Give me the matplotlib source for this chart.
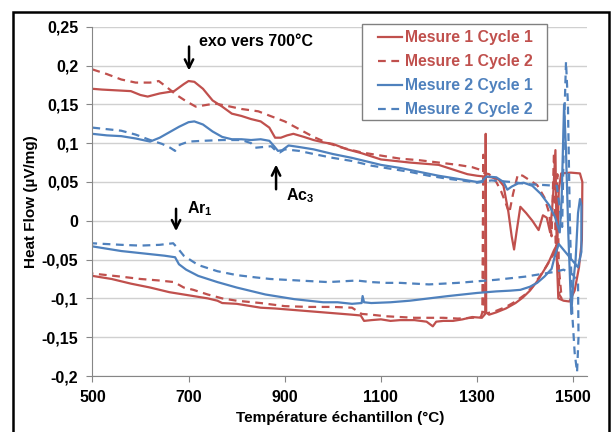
import numpy as np
import matplotlib.pyplot as plt
from matplotlib.patches import Rectangle
from matplotlib.ticker import FuncFormatter

# -------------------------------
# Data
# (heating branch then cooling branch, one loop per series)
# -------------------------------
m1c1_heat_T = [500, 520, 550, 580, 600, 615, 640, 670, 690, 700, 712, 730, 750, 770, 790, 810, 830,
               850, 868, 880, 892, 905, 918, 940, 960, 980, 1000, 1030, 1060, 1100, 1130, 1160, 1200,
               1220, 1250, 1280, 1300, 1315, 1330, 1345, 1355, 1365, 1372, 1377, 1382, 1390, 1402,
               1415, 1428, 1437, 1445, 1452, 1458, 1463, 1466, 1469, 1480, 1492, 1503, 1512, 1518,
               1519, 1514, 1495, 1475, 1470, 1467]
m1c1_heat_hf = [0.170, 0.169, 0.168, 0.167, 0.162, 0.160, 0.164, 0.167, 0.176, 0.180, 0.179, 0.170,
                0.155, 0.147, 0.138, 0.135, 0.131, 0.128, 0.120, 0.107, 0.107, 0.110, 0.112, 0.108,
                0.104, 0.101, 0.099, 0.092, 0.087, 0.079, 0.077, 0.075, 0.073, 0.072, 0.066, 0.060,
                0.058, 0.057, 0.056, 0.053, 0.045, 0.012, -0.020, -0.037, -0.015, 0.018, 0.010,
                0.000, -0.012, 0.007, 0.004, -0.015, 0.030, 0.091, -0.050, -0.100, -0.103, -0.104,
                -0.090, -0.060, -0.025, 0.050, 0.061, 0.062, 0.061, 0.040, -0.030]
m1c1_cool_T = [1460, 1450, 1440, 1425, 1410, 1395, 1380, 1360, 1340, 1325, 1319, 1318, 1317, 1310,
               1290, 1270, 1250, 1230, 1215, 1208, 1195, 1170, 1140, 1120, 1100, 1080, 1065, 1058,
               1040, 1000, 960, 920, 880, 850, 820, 800, 770, 760, 740, 700, 660, 620, 580, 540, 500]
m1c1_cool_hf = [-0.038, -0.052, -0.063, -0.078, -0.090, -0.099, -0.106, -0.113, -0.118, -0.121,
                -0.118, 0.112, -0.120, -0.125, -0.124, -0.127, -0.129, -0.129, -0.130, -0.136,
                -0.130, -0.128, -0.128, -0.129, -0.127, -0.128, -0.129, -0.122, -0.121, -0.119,
                -0.117, -0.115, -0.113, -0.112, -0.109, -0.107, -0.106, -0.103, -0.100, -0.096,
                -0.092, -0.086, -0.081, -0.075, -0.071]

m1c2_heat_T = [500, 530, 560, 590, 620, 638, 655, 675, 695, 715, 735, 755, 780, 810, 845, 870, 900,
               930, 960, 990, 1020, 1060, 1100, 1140, 1180, 1220, 1260, 1290, 1305, 1311, 1325, 1340,
               1350, 1360, 1367, 1375, 1385, 1395, 1410, 1425, 1440, 1450, 1455, 1460, 1464, 1467,
               1471, 1476, 1470]
m1c2_heat_hf = [0.195, 0.189, 0.182, 0.178, 0.178, 0.180, 0.172, 0.162, 0.154, 0.147, 0.149, 0.151,
                0.148, 0.144, 0.141, 0.135, 0.128, 0.118, 0.108, 0.100, 0.094, 0.088, 0.084, 0.080,
                0.078, 0.075, 0.072, 0.069, 0.066, 0.062, 0.060, 0.050, 0.038, 0.022, 0.010, 0.035,
                0.060, 0.058, 0.052, 0.046, 0.030, 0.010, -0.020, 0.088, -0.050, 0.060, -0.095,
                -0.100, -0.060]
m1c2_cool_T = [1462, 1445, 1430, 1415, 1400, 1380, 1360, 1340, 1322, 1314, 1313, 1311, 1308, 1290,
               1260, 1230, 1200, 1170, 1140, 1110, 1080, 1060, 1040, 1000, 950, 900, 850, 800, 770,
               740, 710, 690, 670, 640, 600, 560, 530, 500]
m1c2_cool_hf = [-0.040, -0.058, -0.072, -0.085, -0.095, -0.104, -0.111, -0.116, -0.119, -0.118,
                0.085, -0.118, -0.124, -0.125, -0.126, -0.125, -0.125, -0.125, -0.124, -0.123,
                -0.121, -0.120, -0.112, -0.111, -0.111, -0.110, -0.106, -0.103, -0.100, -0.095,
                -0.089, -0.086, -0.079, -0.077, -0.075, -0.072, -0.070, -0.068]

m2c1_heat_T = [500, 530, 560, 590, 620, 640, 660, 680, 700, 712, 730, 750, 770, 790, 810, 830, 850,
               868, 878, 886, 895, 908, 930, 960, 1000, 1040, 1080, 1100, 1140, 1180, 1220, 1260,
               1300, 1310, 1320, 1340, 1355, 1363, 1372, 1385, 1397, 1415, 1432, 1450, 1462, 1472,
               1476, 1481, 1485, 1490, 1496, 1500, 1505, 1510, 1514, 1517, 1517, 1510]
m2c1_heat_hf = [0.112, 0.110, 0.109, 0.106, 0.102, 0.107, 0.114, 0.121, 0.127, 0.128, 0.124, 0.115,
                0.108, 0.105, 0.105, 0.104, 0.105, 0.103, 0.096, 0.090, 0.091, 0.097, 0.095, 0.092,
                0.086, 0.081, 0.075, 0.072, 0.068, 0.063, 0.058, 0.054, 0.050, 0.051, 0.057, 0.056,
                0.050, 0.040, 0.044, 0.048, 0.049, 0.045, 0.035, 0.020, 0.005, -0.015, 0.030, 0.150,
                0.090, -0.020, -0.120, -0.080, -0.050, 0.010, 0.028, 0.020, -0.040, -0.060]
m2c1_cool_T = [1470, 1462, 1455, 1440, 1425, 1410, 1390, 1370, 1340, 1300, 1270, 1240, 1200, 1160,
               1120, 1080, 1065, 1062, 1060, 1040, 1010, 980, 950, 920, 900, 880, 860, 840, 800, 760,
               720, 695, 680, 672, 650, 620, 590, 560, 530, 500]
m2c1_cool_hf = [-0.030, -0.045, -0.062, -0.072, -0.080, -0.085, -0.089, -0.090, -0.091, -0.093,
                -0.095, -0.097, -0.100, -0.103, -0.105, -0.106, -0.105, -0.097, -0.106, -0.107,
                -0.105, -0.105, -0.103, -0.101, -0.099, -0.097, -0.095, -0.092, -0.086, -0.079,
                -0.071, -0.063, -0.056, -0.047, -0.045, -0.043, -0.041, -0.039, -0.036, -0.033]

m2c2_heat_T = [500, 530, 560, 590, 620, 645, 662, 672, 682, 700, 730, 770, 810, 830, 838, 855, 872,
               882, 890, 900, 930, 960, 1000, 1040, 1080, 1120, 1160, 1200, 1240, 1280, 1300, 1330,
               1370, 1410, 1440, 1466, 1477, 1481, 1485, 1489, 1493, 1498, 1503, 1508, 1511, 1510,
               1500, 1480]
m2c2_heat_hf = [0.120, 0.118, 0.116, 0.111, 0.104, 0.099, 0.094, 0.090, 0.098, 0.102, 0.103, 0.104,
                0.104, 0.100, 0.094, 0.095, 0.096, 0.090, 0.088, 0.092, 0.090, 0.086, 0.081, 0.077,
                0.071, 0.067, 0.063, 0.058, 0.054, 0.051, 0.049, 0.052, 0.050, 0.047, 0.046, 0.045,
                -0.008, 0.120, 0.205, 0.150, 0.000, -0.120, -0.170, -0.195, -0.150, -0.080, -0.070,
                -0.063]
m2c2_cool_T = [1460, 1430, 1400, 1370, 1340, 1300, 1260, 1230, 1200, 1170, 1140, 1110, 1080, 1050,
               1020, 990, 960, 930, 900, 870, 840, 800, 760, 720, 690, 677, 668, 640, 600, 560, 530, 500]
m2c2_cool_hf = [-0.066, -0.069, -0.072, -0.074, -0.076, -0.078, -0.080, -0.081, -0.082, -0.081,
                -0.080, -0.080, -0.079, -0.077, -0.078, -0.079, -0.078, -0.077, -0.076, -0.075,
                -0.073, -0.070, -0.065, -0.057, -0.045, -0.035, -0.029, -0.031, -0.032, -0.031,
                -0.030, -0.029]

labels = ["Mesure 1 Cycle 1", "Mesure 1 Cycle 2", "Mesure 2 Cycle 1", "Mesure 2 Cycle 2"]
red = "#C0504D"
blue = "#4F81BD"

plt.rcParams['font.family'] = ['Liberation Sans', 'DejaVu Sans']
plt.rcParams['font.weight'] = 'bold'
plt.rcParams['mathtext.fontset'] = 'custom'
plt.rcParams['mathtext.rm'] = 'Liberation Sans'
plt.rcParams['mathtext.bf'] = 'Liberation Sans:bold'

W, H = 611, 432
fig = plt.figure(figsize=(W / 100, H / 100), dpi=100)
ax = fig.add_axes([0.1512, 0.1296, 0.809, 0.8086])

series = [
    (m1c1_heat_T + m1c1_cool_T, m1c1_heat_hf + m1c1_cool_hf, red, '-'),
    (m1c2_heat_T + m1c2_cool_T, m1c2_heat_hf + m1c2_cool_hf, red, '--'),
    (m2c1_heat_T + m2c1_cool_T, m2c1_heat_hf + m2c1_cool_hf, blue, '-'),
    (m2c2_heat_T + m2c2_cool_T, m2c2_heat_hf + m2c2_cool_hf, blue, '--'),
]
for (t, hf, c, ls), lab in zip(series, labels):
    line, = ax.plot(t, hf, color=c, lw=1.6, ls=ls, label=lab)
    if ls == '--':
        line.set_dashes((3.5, 2.5))


def comma_fmt(v, pos):
    v = np.round(v, 2)
    if abs(v) < 1e-9:
        return "0"
    return f"{v:g}".replace('.', ',')


ax.set_xlim(500, 1528)
ax.set_ylim(-0.2, 0.25)
ax.set_xticks([500, 700, 900, 1100, 1300, 1500])
ax.set_yticks(np.arange(-0.2, 0.2501, 0.05))
ax.yaxis.set_major_formatter(FuncFormatter(comma_fmt))
ax.grid(axis='y', color='#D0D0D0', lw=1)
ax.set_axisbelow(True)
for s in ['top', 'right']:
    ax.spines[s].set_visible(False)
for s in ['left', 'bottom']:
    ax.spines[s].set_color('#868686')
ax.tick_params(axis='both', direction='out', length=4, color='#868686', labelsize=11.5, pad=6)

ax.set_xlabel("Température échantillon (°C)", fontsize=11, fontweight='bold')
ax.set_ylabel("Heat Flow (µV/mg)", fontsize=11, fontweight='bold')
ax.xaxis.set_label_coords(0.501, -0.100)
ax.yaxis.set_label_coords(-0.111, 0.5)

# annotations
arrow = dict(arrowstyle='->,head_length=0.6,head_width=0.3', color='black', lw=1.8)
ax.annotate("", xy=(701, 0.190), xytext=(701, 0.228), arrowprops=arrow)
ax.text(722, 0.231, "exo vers 700°C", fontsize=11.5, fontweight='bold', va='center')
ax.annotate("", xy=(674, -0.017), xytext=(674, 0.019), arrowprops=arrow)
ax.text(697, 0.016, "Ar$_\\mathbf{1}$", fontsize=11.5, fontweight='bold', va='center')
ax.annotate("", xy=(882, 0.076), xytext=(882, 0.037), arrowprops=arrow)
ax.text(903, 0.032, "Ac$_\\mathbf{3}$", fontsize=11.5, fontweight='bold', va='center')

# legend: entries placed without frame, box drawn to the reference size
leg = fig.legend(loc='upper left', bbox_to_anchor=(378 / W, 1 - 30 / H), bbox_transform=fig.transFigure,
                 frameon=False, fontsize=11.3, handlelength=1.55, handletextpad=0.2,
                 labelspacing=0.58, borderpad=0, borderaxespad=0)
for txt, c in zip(leg.get_texts(), [red, red, blue, blue]):
    txt.set_color(c)
fig.patches.append(Rectangle((362 / W, 1 - 120 / H), 185 / W, 96 / H, transform=fig.transFigure,
                             facecolor='white', edgecolor='#808080', lw=1, zorder=2.5))
leg.set_zorder(3)

# outer frame of the picture
fig.patches.append(Rectangle((13 / W, -0.1), 596 / W, 1.1 - 12 / H, transform=fig.transFigure,
                             fill=False, edgecolor='black', lw=1.8))

plt.savefig("out.png", dpi=100)
